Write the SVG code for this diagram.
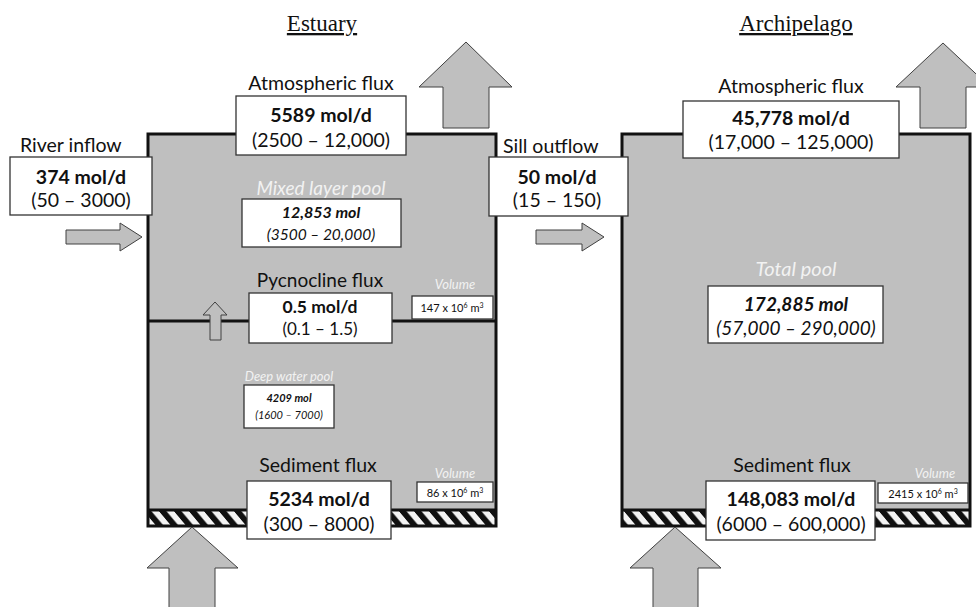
<svg xmlns="http://www.w3.org/2000/svg" width="976" height="607" viewBox="0 0 976 607">
<defs>
<style>
.pool{fill:#bfbfbf;stroke:none}
.frame{fill:none;stroke:#111;stroke-width:3}
.box{fill:#fff;stroke:#333;stroke-width:1.3}
.arrow{fill:#bfbfbf;stroke:#404040;stroke-width:1}
.t{font-family:Lato,"Liberation Sans",sans-serif;fill:#111;text-anchor:middle}
.s18{font-size:19.5px}
.b{font-weight:bold}
.i{font-style:italic}
.wl{fill:#f2f2f2;font-style:italic}
.title{font-family:"Liberation Serif",serif;font-size:23px;text-anchor:middle;text-decoration:underline;fill:#111}
</style>
<pattern id="hatch" patternUnits="userSpaceOnUse" width="15" height="17" patternTransform="skewX(40)">
<rect width="15" height="17" fill="#f4f4f4"/>
<rect width="7.5" height="17" fill="#111"/>
</pattern>
</defs>
<rect width="976" height="607" fill="#fff"/>

<text class="title" x="322" y="31">Estuary</text>
<text class="title" x="796" y="31">Archipelago</text>

<g id="estuary">
<rect class="pool" x="148" y="134" width="348" height="376"/>
<rect x="148" y="510" width="348" height="16" fill="url(#hatch)"/>
<line x1="148" y1="510" x2="496" y2="510" stroke="#111" stroke-width="3"/>
<line x1="148" y1="321" x2="496" y2="321" stroke="#111" stroke-width="3"/>
<rect class="frame" x="148" y="134" width="348" height="392"/>
</g>

<g id="archipelago">
<rect class="pool" x="622" y="134" width="348" height="376"/>
<rect x="622" y="510" width="348" height="16" fill="url(#hatch)"/>
<line x1="622" y1="510" x2="970" y2="510" stroke="#111" stroke-width="3"/>
<rect class="frame" x="622" y="134" width="348" height="392"/>
</g>

<g id="connectors">
<polygon class="arrow" points="443,128 443,87 419,87 466,42 512,87 489,87 489,128"/>
<polygon class="arrow" points="920,128 920,87 896,87 943,43 990,87 966,87 966,128"/>
<polygon class="arrow" points="169,610 169,568 147,568 192,527 238,568 215,568 215,610"/>
<polygon class="arrow" points="653,610 653,568 630,568 675,527 721,568 698,568 698,610"/>
<polygon class="arrow" points="210,340 210,315 203,315 215,302 227,315 221,315 221,340"/>
<polygon class="arrow" points="536,230 582,230 582,223 604,237 582,251 582,244 536,244"/>
<polygon class="arrow" points="66,230 120,230 120,223 142,237 120,251 120,244 66,244"/>
</g>

<g id="estuary-atm">
<text class="t s18" x="321" y="90">Atmospheric flux</text>
<rect class="box" x="236" y="96" width="170" height="59"/>
<text class="t s18 b" x="321" y="122">5589 mol/d</text>
<text class="t s18" x="321" y="147">(2500 – 12,000)</text>
</g>

<g id="river">
<text class="t s18" x="20" y="152" style="text-anchor:start">River inflow</text>
<rect class="box" x="10" y="157" width="142" height="58"/>
<text class="t s18 b" x="81" y="184">374 mol/d</text>
<text class="t s18" x="81" y="207">(50 – 3000)</text>
</g>

<g id="sill">
<text class="t s18" x="503" y="153" style="text-anchor:start">Sill outflow</text>
<rect class="box" x="489" y="157" width="139" height="59"/>
<text class="t s18 b" x="557" y="184">50 mol/d</text>
<text class="t s18" x="557" y="207">(15 – 150)</text>
</g>

<g id="mixed">
<text class="t wl" x="321" y="195" font-size="19">Mixed layer pool</text>
<rect class="box" x="242" y="199" width="159" height="48"/>
<text class="t b i" x="321" y="218" font-size="16">12,853 mol</text>
<text class="t i" x="321" y="240" font-size="15.5">(3500 – 20,000)</text>
</g>

<g id="pycnocline">
<text class="t" x="320" y="287" font-size="19">Pycnocline flux</text>
<rect class="box" x="249" y="293" width="143" height="50"/>
<text class="t b" x="320" y="313" font-size="17.5">0.5 mol/d</text>
<text class="t" x="320" y="335" font-size="17">(0.1 – 1.5)</text>
</g>

<g id="vol-mixed">
<text class="t wl" x="455" y="289" font-size="13">Volume</text>
<rect class="box" x="412" y="296" width="81" height="23"/>
<text class="t" x="452" y="312" font-size="11">147 x 10<tspan font-size="7" dy="-4">6</tspan><tspan dy="4"> m</tspan><tspan font-size="7" dy="-4">3</tspan></text>
</g>

<g id="deep">
<text class="t wl" x="289" y="381" font-size="13">Deep water pool</text>
<rect class="box" x="244" y="385" width="90" height="43"/>
<text class="t b i" x="289" y="402" font-size="11">4209 mol</text>
<text class="t i" x="289" y="419" font-size="11">(1600 – 7000)</text>
</g>

<g id="estuary-sed">
<text class="t s18" x="318" y="472">Sediment flux</text>
<rect class="box" x="247" y="481" width="144" height="58"/>
<text class="t s18 b" x="319" y="506">5234 mol/d</text>
<text class="t s18" x="319" y="531">(300 – 8000)</text>
</g>

<g id="vol-deep">
<text class="t wl" x="455" y="478" font-size="13">Volume</text>
<rect class="box" x="417" y="482" width="76" height="20"/>
<text class="t" x="455" y="497" font-size="11">86 x 10<tspan font-size="7" dy="-4">6</tspan><tspan dy="4"> m</tspan><tspan font-size="7" dy="-4">3</tspan></text>
</g>

<g id="arch-atm">
<text class="t s18" x="791" y="93">Atmospheric flux</text>
<rect class="box" x="683" y="101" width="216" height="57"/>
<text class="t s18 b" x="791" y="125">45,778 mol/d</text>
<text class="t s18" x="791" y="149">(17,000 – 125,000)</text>
</g>

<g id="total">
<text class="t wl" x="796" y="276" font-size="20">Total pool</text>
<rect class="box" x="708" y="286" width="175" height="57"/>
<text class="t b i" x="796" y="311" font-size="19">172,885 mol</text>
<text class="t i" x="796" y="335" font-size="19">(57,000 – 290,000)</text>
</g>

<g id="arch-sed">
<text class="t s18" x="792" y="472">Sediment flux</text>
<rect class="box" x="706" y="481" width="169" height="59"/>
<text class="t s18 b" x="791" y="506">148,083 mol/d</text>
<text class="t s18" x="791" y="531">(6000 – 600,000)</text>
</g>

<g id="vol-arch">
<text class="t wl" x="935" y="478" font-size="13">Volume</text>
<rect class="box" x="878" y="483" width="90" height="20"/>
<text class="t" x="923" y="498" font-size="11">2415 x 10<tspan font-size="7" dy="-4">6</tspan><tspan dy="4"> m</tspan><tspan font-size="7" dy="-4">3</tspan></text>
</g>
</svg>
